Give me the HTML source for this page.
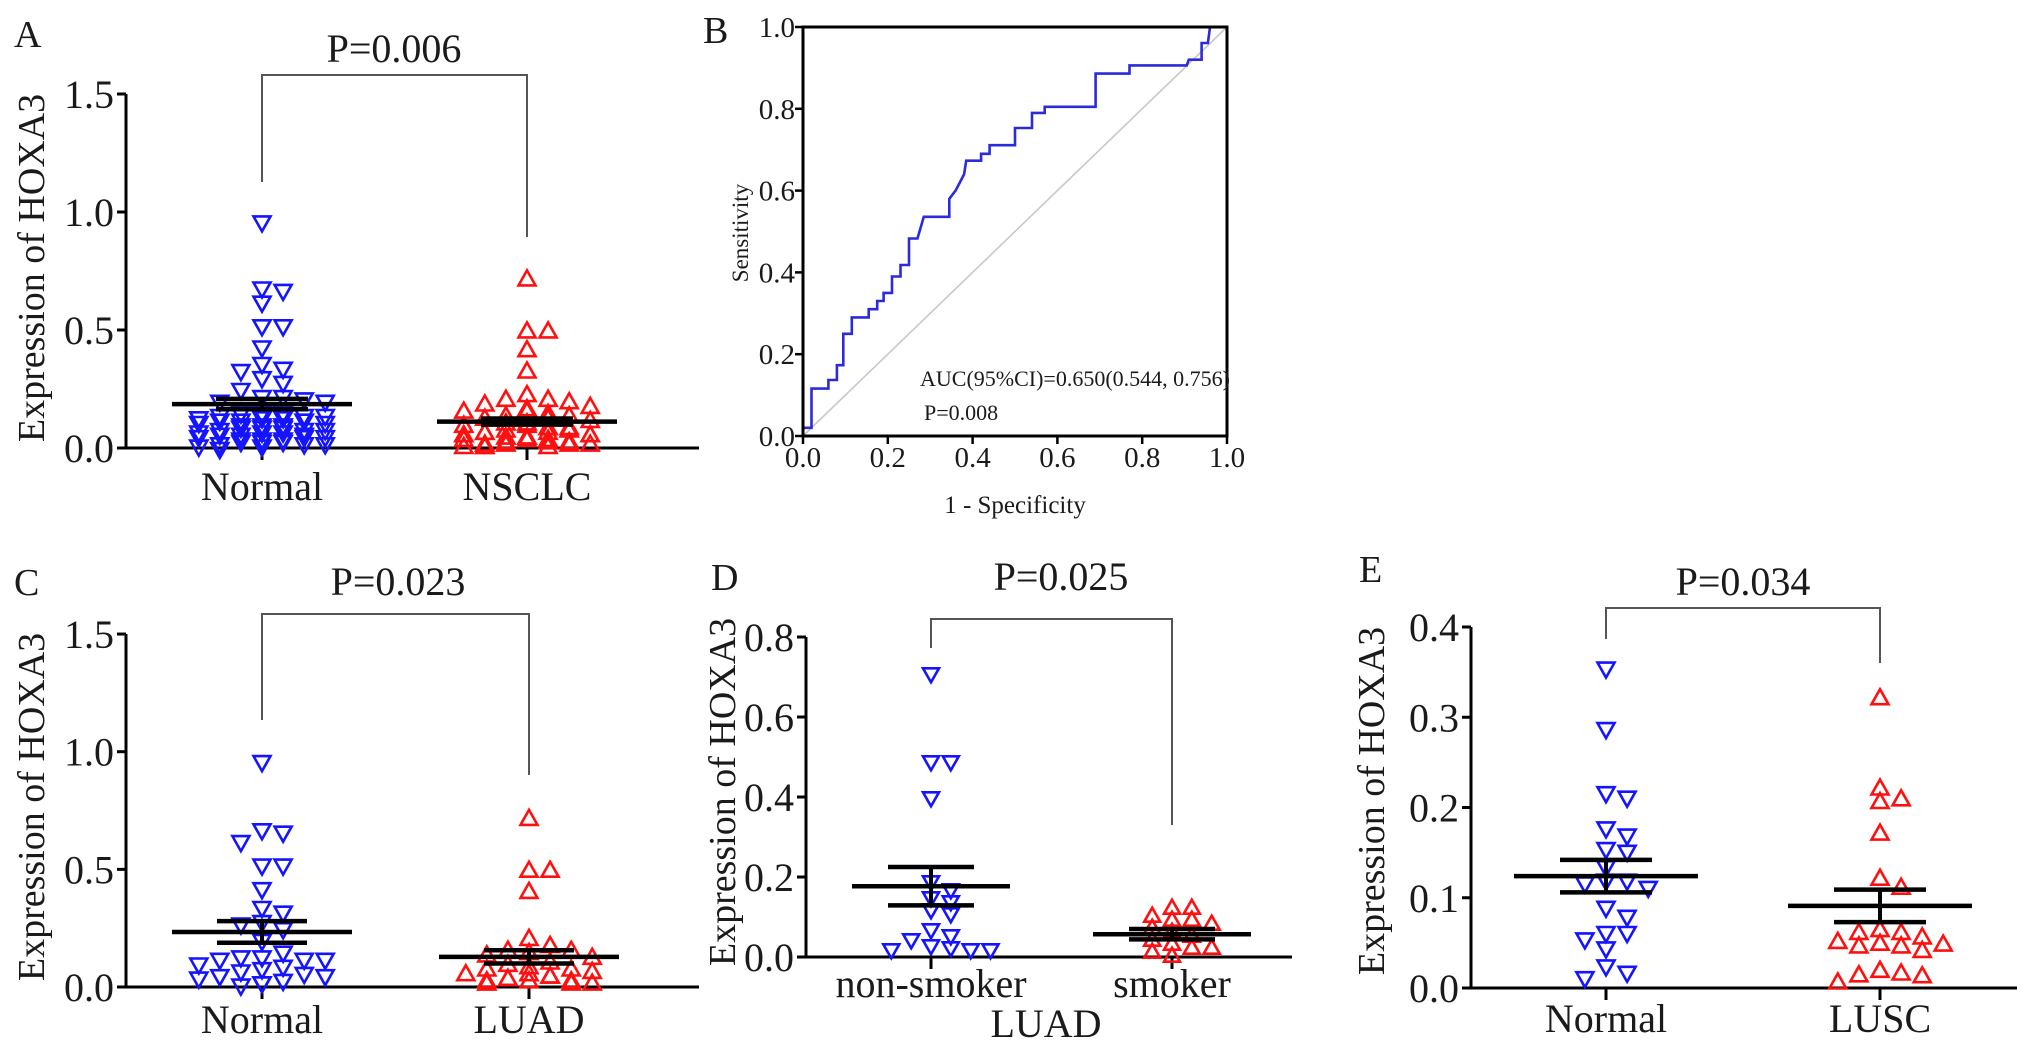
<!DOCTYPE html>
<html><head><meta charset="utf-8"><title>HOXA3 expression</title>
<style>html,body{margin:0;padding:0;background:#fff}svg{display:block}</style>
</head><body>
<svg id="fig" xmlns="http://www.w3.org/2000/svg" width="2031" height="1057" viewBox="0 0 2031 1057" font-family="Liberation Serif, serif">
<rect width="2031" height="1057" fill="#fff"/>
</svg>
<script>
// ---------- data ----------
const aNormal=[0.96,0.68,0.67,0.62,0.52,0.52,0.43,0.36,0.34,0.33,0.30,0.28,0.25,0.22,0.22,0.21,0.20,0.20,0.15,0.15,0.15,0.14,0.14,0.14,0.13,0.13,0.13,0.12,0.12,0.12,0.11,0.11,0.10,0.10,0.10,0.09,0.09,0.09,0.08,0.08,0.08,0.07,0.07,0.07,0.06,0.06,0.06,0.05,0.05,0.05,0.04,0.04,0.04,0.03,0.03,0.03,0.02,0.02,0.02,0.01,0.01,0.0];
const aTumor=[0.71,0.49,0.49,0.41,0.32,0.22,0.20,0.20,0.19,0.18,0.17,0.16,0.15,0.15,0.14,0.13,0.13,0.12,0.12,0.11,0.10,0.10,0.09,0.09,0.08,0.08,0.07,0.07,0.06,0.06,0.06,0.05,0.05,0.05,0.04,0.04,0.04,0.03,0.03,0.03,0.02,0.02,0.02,0.02,0.01,0.01,0.01,0.01,0.0,0.0,0.0,0.0];
const aMean=[0.186,0.112];
const aSem=[0.022,0.013];
const cNormal=[0.96,0.67,0.66,0.62,0.52,0.52,0.42,0.34,0.32,0.28,0.27,0.25,0.20,0.15,0.13,0.13,0.12,0.12,0.12,0.10,0.09,0.08,0.07,0.06,0.05,0.05,0.04,0.03,0.02,0.02,0.01];
const cLuad=[0.71,0.49,0.49,0.40,0.20,0.17,0.15,0.15,0.14,0.13,0.12,0.10,0.09,0.08,0.07,0.07,0.06,0.05,0.05,0.04,0.04,0.03,0.03,0.02,0.02,0.02,0.01,0.01,0.01];
const cMean=[0.234,0.128];
const cSem=[0.046,0.028];
const dNonSmoker=[0.71,0.49,0.49,0.40,0.19,0.17,0.15,0.14,0.12,0.11,0.07,0.055,0.045,0.03,0.025,0.02,0.02,0.02];
const dSmoker=[0.12,0.12,0.10,0.09,0.09,0.08,0.07,0.06,0.05,0.04,0.03,0.02,0.02,0.01,0.0];
const dMean=[0.177,0.057];
const dSem=[0.048,0.013];
const eNormal=[0.355,0.288,0.217,0.212,0.178,0.17,0.155,0.152,0.135,0.12,0.12,0.117,0.112,0.09,0.08,0.062,0.062,0.055,0.045,0.025,0.018,0.012];
const eLusc=[0.32,0.22,0.208,0.205,0.17,0.12,0.11,0.063,0.06,0.06,0.055,0.05,0.048,0.047,0.045,0.045,0.04,0.018,0.015,0.013,0.012,0.005];
const eMean=[0.124,0.091];
const eSem=[0.018,0.018];
const rocFpr=[0,0,0.02,0.02,0.06,0.06,0.08,0.08,0.095,0.095,0.115,0.115,0.155,0.155,0.175,0.175,0.19,0.19,0.21,0.21,0.23,0.23,0.25,0.25,0.27,0.285,0.345,0.345,0.36,0.37,0.38,0.385,0.42,0.42,0.44,0.44,0.5,0.5,0.54,0.54,0.57,0.57,0.69,0.69,0.77,0.77,0.905,0.91,0.94,0.94,0.955,0.96,0.97];
const rocTpr=[0,0.02,0.02,0.116,0.116,0.137,0.137,0.173,0.173,0.25,0.25,0.29,0.29,0.31,0.31,0.33,0.33,0.35,0.35,0.39,0.39,0.418,0.418,0.483,0.483,0.536,0.536,0.58,0.60,0.62,0.64,0.673,0.673,0.69,0.69,0.711,0.711,0.753,0.753,0.79,0.79,0.805,0.805,0.886,0.886,0.906,0.906,0.92,0.92,0.961,0.961,1.0,1.0];
const rocTicks=[0,0.2,0.4,0.6,0.8,1.0];
const rocTickLabels=['0.0','0.2','0.4','0.6','0.8','1.0'];

// ---------- helpers ----------
const NS='http://www.w3.org/2000/svg';
const svg=document.getElementById('fig');
function mk(tag,attrs,parent){const e=document.createElementNS(NS,tag);for(const k in attrs)e.setAttribute(k,attrs[k]);(parent||svg).appendChild(e);return e;}
function txt(x,y,s,size,anchor,parent,rot){
  const t=mk('text',{transform:'translate('+x+','+y+')'+(rot?' rotate(-90)':''),'font-size':size,'text-anchor':anchor,fill:'#1a1a1a'},parent);
  t.textContent=s;return t;}
function line(x1,y1,x2,y2,w,c,parent){return mk('line',{x1:x1,y1:y1,x2:x2,y2:y2,stroke:c||'#000','stroke-width':w},parent);}

function swarm(vals,cx,yf,w,h,maxHalf){
  const placed=[];const out=[];
  const step=w*0.62;
  const cands=[0];
  for(let k=1;k*step<=maxHalf+0.1;k++){cands.push(k*step);cands.push(-k*step);}
  const sorted=vals.map((v,i)=>[v,i]).sort((a,b)=>b[0]-a[0]);
  sorted.forEach(([v,i])=>{
    const y=yf(v);
    let best=null,bestC=1e9;
    for(const off of cands){
      const x=cx+off;
      let c=0;
      placed.forEach(p=>{if(Math.abs(p[0]-x)<w*1.15&&Math.abs(p[1]-y)<h*0.8)c++;});
      if(c<bestC){bestC=c;best=x;}
      if(c===0)break;
    }
    placed.push([best,y]);out[i]=[best,y];
  });
  return out;
}

function dotPanel(cfg){
  const g=mk('g',{});
  
  
  const yf=v=>cfg.y0-v*cfg.ppu;
  const L=txt(cfg.letX,cfg.letY,cfg.letter,38,'start',g);
  
  
  const T=txt(cfg.titleX,cfg.titleY,'Expression of HOXA3',38,'middle',g,true);
  
  
  const ya=line(cfg.ax,cfg.y0+1.5,cfg.ax,yf(cfg.ticks[cfg.ticks.length-1]),3,'#000',g);
  
  
  const xa=line(cfg.ax-1.5,cfg.y0,cfg.xEnd,cfg.y0,3,'#000',g);
  
  
  cfg.ticks.forEach((t,i)=>{
    const tk=line(cfg.ax-9,yf(t),cfg.ax,yf(t),3,'#000',g);
    
    
    const tl=txt(cfg.ax-12,yf(t)+14,cfg.tickLabels[i],40,'end',g);
    
    
  });
  cfg.groups.forEach((grp,gi)=>{
    const cx=cfg.cx[gi];
    const xt=line(cx,cfg.y0,cx,cfg.y0+12,3,'#000',g);
    
    
    const cl=txt(cx,cfg.catY,cfg.cats[gi],40,'middle',g);
    
    
    const color=gi===0?'#1414ff':'#ff1010';
    const pos=swarm(grp,cx,yf,cfg.mw,cfg.mh,cfg.spread[gi]);
    pos.forEach(([x,y])=>{
      const w=cfg.mw/2,h=cfg.mh;
      const pts=gi===0?[[x-w,y-h/3],[x+w,y-h/3],[x,y+2*h/3]]:[[x-w,y+h/3],[x+w,y+h/3],[x,y-2*h/3]];
      const p=mk('polygon',{points:pts.map(q=>q[0].toFixed(1)+','+q[1].toFixed(1)).join(' '),fill:'none',stroke:color,'stroke-width':2.6,'stroke-linejoin':'miter'},g);
      
      
    });
  });
  cfg.groups.forEach((grp,gi)=>{
    const cx=cfg.cx[gi];const m=cfg.mean[gi],s=cfg.sem[gi];
    const ml=line(cx-cfg.hm,yf(m),cx+cfg.hm,yf(m),4.5,'#000',g);
    
    
    const v=line(cx,yf(m+s),cx,yf(m-s),4,'#000',g);
    
    
    const c1=line(cx-cfg.hs,yf(m+s),cx+cfg.hs,yf(m+s),4.5,'#000',g);
    
    
    const c2=line(cx-cfg.hs,yf(m-s),cx+cfg.hs,yf(m-s),4.5,'#000',g);
    
    
  });
  const b=mk('polyline',{points:cfg.cx[0]+','+cfg.bl+' '+cfg.cx[0]+','+cfg.bt+' '+cfg.cx[1]+','+cfg.bt+' '+cfg.cx[1]+','+cfg.br,fill:'none',stroke:'#555','stroke-width':2},g);
  
  
  const P=txt(cfg.pX,cfg.pY,cfg.pText,40,'middle',g);
  
  
  if(cfg.xTitle){
    const X=txt(cfg.xTitle[0],cfg.xTitle[1],cfg.xTitle[2],40,'middle',g);
    
    
  }
}

dotPanel({name:'panel-a',letter:'A',letX:14,letY:47,titleX:44,titleY:268,ax:126,y0:448,ppu:236,xEnd:699,
  ticks:[0,0.5,1,1.5],tickLabels:['0.0','0.5','1.0','1.5'],cx:[262,527],cats:['Normal','NSCLC'],catY:500,
  groups:[aNormal,aTumor],mean:aMean,sem:aSem,hm:90,hs:46,mw:17,mh:15,spread:[80,80],bt:75,bl:182,br:237,pText:'P=0.006',pX:394,pY:62});
dotPanel({name:'panel-c',letter:'C',letX:14,letY:595,titleX:44,titleY:807,ax:126,y0:987,ppu:235.3,xEnd:699,
  ticks:[0,0.5,1,1.5],tickLabels:['0.0','0.5','1.0','1.5'],cx:[262,529],cats:['Normal','LUAD'],catY:1033,
  groups:[cNormal,cLuad],mean:cMean,sem:cSem,hm:90,hs:45,mw:17,mh:15,spread:[68,78],bt:614,bl:720,br:775,pText:'P=0.023',pX:398,pY:595});
dotPanel({name:'panel-d',letter:'D',letX:711,letY:590,titleX:735,titleY:792,ax:806,y0:957,ppu:400,xEnd:1292,
  ticks:[0,0.2,0.4,0.6,0.8],tickLabels:['0.0','0.2','0.4','0.6','0.8'],cx:[931,1172],cats:['non-smoker','smoker'],catY:997,
  groups:[dNonSmoker,dSmoker],mean:dMean,sem:dSem,hm:79,hs:43,mw:16,mh:14,spread:[60,58],bt:619,bl:648,br:825,pText:'P=0.025',pX:1061,pY:590,
  xTitle:[1046,1037,'LUAD']});
dotPanel({name:'panel-e',letter:'E',letX:1359,letY:582,titleX:1384,titleY:801,ax:1471,y0:988,ppu:902.5,xEnd:2017,
  ticks:[0,0.1,0.2,0.3,0.4],tickLabels:['0.0','0.1','0.2','0.3','0.4'],cx:[1606,1880],cats:['Normal','LUSC'],catY:1032,
  groups:[eNormal,eLusc],mean:eMean,sem:eSem,hm:92,hs:46,mw:17,mh:15,spread:[46,66],bt:608,bl:639,br:663,pText:'P=0.034',pX:1743,pY:595});

// ---------- ROC panel ----------
(function(){
  const L=803,R=1227,T=27,B=436;
  const xs=v=>L+v*(R-L), ys=v=>B-v*(B-T);
  const g=mk('g',{});
  
  
  const lab=txt(703,43,'B',38,'start',g);
  
  
  const diag=line(xs(0),ys(0),xs(1),ys(1),1.6,'#c8c8c8',g);
  
  
  const roc=mk('polyline',{points:rocFpr.map((f,i)=>xs(f).toFixed(1)+','+ys(rocTpr[i]).toFixed(1)).join(' '),fill:'none',stroke:'#2b2bdc','stroke-width':2.6},g);
  
  
  const fr=mk('rect',{x:L,y:T,width:R-L,height:B-T,fill:'none',stroke:'#000','stroke-width':3},g);
  
  
  rocTicks.forEach((t,i)=>{
    const a=line(xs(t),B,xs(t),B+8,2.5,'#000',g);
    
    
    const al=txt(xs(t),467,rocTickLabels[i],29,'middle',g);
    
    
    const b=line(L-8,ys(t),L,ys(t),2.5,'#000',g);
    
    
    const bl=txt(795,ys(t)+10,rocTickLabels[i],29,'end',g);
    
    
  });
  const xt=txt(1015,513,'1 - Specificity',25,'middle',g);
  
  
  const yt=txt(748,233,'Sensitivity',23,'middle',g,true);
  
  
  const auc=txt(920,386,'AUC(95%CI)=0.650(0.544, 0.756)',22,'start',g);
  
  
  const pv=txt(924,420,'P=0.008',22,'start',g);
  
  
})();
</script>
</body></html>
